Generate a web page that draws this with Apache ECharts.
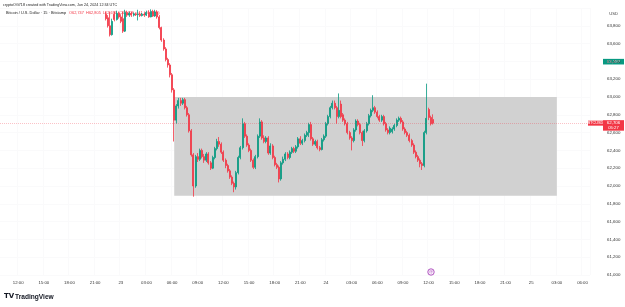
<!DOCTYPE html>
<html><head><meta charset="utf-8">
<script src="https://cdn.jsdelivr.net/npm/echarts@6/dist/echarts.min.js"></script>
<style>html,body{margin:0;padding:0;background:#fff}#c{width:625px;height:307px}</style>
</head><body><div id="c"></div>
<script>
// 15-minute bars, first category = Jun 22 10:00 UTC
const totalBars = 276;
const firstDataIndex = 49;
const opens = [63930,63890,63800,63700,63930,63870,63940,63900,63880,63740,63950,63920,63940,63920,63935,63925,63930,63915,63930,63920,63950,63900,63960,63910,63955,
63900,63780,63640,63540,63420,63360,63250,63080,62740,62900,62960,62930,62970,62880,62800,62620,62350,62000,62330,62300,62400,62330,62290,62360,62260,62200,
62320,62420,62500,62470,62380,62290,62230,62170,62100,62030,61990,62150,62320,62430,62700,62560,62460,62400,62290,62210,62330,62560,62720,62540,62500,62540,
62370,62450,62320,62240,62210,62080,62260,62300,62360,62320,62380,62420,62390,62440,62530,62480,62510,62570,62600,62690,62530,62470,62500,62430,62410,62520,
62560,62700,62780,62880,62930,62880,62780,62920,62800,62740,62700,62600,62540,62510,62630,62730,62690,62600,62510,62620,62700,62790,62850,62880,62830,62780,
62740,62780,62700,62630,62600,62610,62640,62680,62740,62760,62720,62640,62600,62570,62510,62460,62380,62330,62290,62250,62230,62600,62860,62770,62747];
const closes = [63880,63800,63700,63850,63870,63940,63900,63850,63740,63950,63920,63940,63920,63935,63925,63930,63915,63930,63920,63950,63900,63960,63910,63955,63900,
63780,63640,63540,63420,63360,63250,63080,62740,62900,62960,62930,62970,62880,62800,62620,62350,62000,62330,62300,62400,62330,62290,62360,62260,62200,62320,
62420,62500,62470,62380,62290,62230,62170,62100,62030,61990,62150,62320,62430,62700,62560,62460,62400,62290,62210,62330,62560,62720,62540,62500,62540,62370,
62450,62320,62240,62210,62080,62260,62300,62360,62320,62380,62420,62390,62440,62530,62480,62510,62570,62600,62690,62530,62470,62500,62430,62410,62520,62560,
62700,62780,62880,62930,62880,62780,62850,62780,62740,62700,62600,62540,62510,62630,62730,62690,62600,62510,62620,62700,62790,62850,62880,62830,62780,62740,
62780,62700,62630,62600,62650,62640,62680,62740,62760,62720,62640,62600,62570,62510,62460,62380,62330,62290,62250,62230,62600,62760,62770,62700,62706];
const lows = [63860,63780,63680,63690,63850,63860,63880,63830,63720,63730,63900,63900,63900,63905,63910,63860,63900,63905,63900,63910,63890,63895,63900,63900,63880,
63760,63620,63520,63400,63330,63220,63050,62500,62700,62870,62900,62910,62860,62780,62600,62330,61880,61980,62270,62280,62310,62260,62270,62240,62180,62190,
62300,62400,62440,62360,62270,62200,62150,62080,62010,61930,61960,62130,62300,62410,62540,62440,62380,62270,62190,62190,62310,62540,62520,62480,62480,62350,
62350,62300,62220,62190,62040,62060,62240,62280,62300,62300,62360,62370,62370,62420,62460,62460,62490,62550,62550,62510,62450,62450,62410,62390,62400,62500,
62540,62680,62760,62860,62860,62700,62760,62760,62720,62680,62580,62520,62400,62490,62610,62670,62580,62450,62490,62600,62680,62770,62830,62810,62760,62720,
62720,62680,62610,62580,62580,62590,62620,62660,62720,62700,62620,62580,62550,62490,62440,62360,62310,62270,62210,62180,62210,62580,62740,62680,62690];
const highs = [63960,63920,63960,63880,63960,63970,63960,63930,63960,63980,63970,63960,63960,63950,63950,63980,63950,63945,63950,63970,63975,63985,63980,63980,63975,
63920,63790,63660,63560,63440,63380,63270,63100,62920,62990,62990,62990,62990,62900,62820,62640,62370,62350,62370,62420,62420,62360,62380,62380,62280,62340,
62440,62530,62550,62490,62400,62310,62250,62190,62120,62050,62170,62340,62450,62760,62720,62580,62480,62420,62310,62350,62580,62760,62740,62570,62560,62560,
62480,62470,62340,62260,62230,62280,62330,62380,62380,62400,62440,62440,62460,62550,62560,62530,62590,62620,62710,62720,62550,62520,62520,62450,62540,62580,
62720,62800,62900,62960,62960,62900,63040,62960,62820,62760,62720,62620,62560,62650,62750,62750,62710,62620,62640,62720,62810,62870,63020,62900,62850,62800,
62800,62800,62720,62650,62670,62660,62700,62760,62780,62780,62740,62660,62620,62590,62530,62480,62400,62350,62310,62270,62620,63150,62880,62790,62805];
const yTicks = {min: 61000, max: 64000, step: 200};
const rangeBox = {fromIndex: 81, toIndex: 260, top: 63000, bottom: 61890};
const lastPrice = 62706;
const greenMark = 63397;
const titleLine = 'cryptoOG718 created with TradingView.com, Jun 24, 2024 12:34 UTC';
const symbolLine = 'Bitcoin / U.S. Dollar · 15 · Bitstamp';
const ohlcLine = 'O62,747  H62,805  L62,690  C62,706  −41 (−0.07%)';

const categories = [];
const base = Date.UTC(2024,5,22,10,0);
for (let i=0;i<totalBars;i++){ categories.push(new Date(base + i*15*60000).toISOString()); }
const candleData = categories.map((c,i)=>{
  const k = i - firstDataIndex;
  if (k>=0 && k<opens.length) return [opens[k], closes[k], lows[k], highs[k]];
  return '-';
});
const UP='#089981', DOWN='#f23645';
const FONT='Liberation Sans';
const chart = echarts.init(document.getElementById('c'), null, {renderer:'canvas'});
const pad = n => (n<10?'0':'')+n;
chart.setOption({
  animation:false,
  backgroundColor:'#ffffff',
  grid:{left:-1, right:35, top:8, bottom:32},
  xAxis:{type:'category', data:categories, boundaryGap:true,
    axisLine:{show:false}, axisTick:{show:false},
    splitLine:{show:true, interval:(i)=> i%12===8, lineStyle:{color:'#fafafb', width:1}},
    axisLabel:{interval:(i)=> i%12===8, margin:6, fontSize:4.3, color:'#333', fontFamily:FONT,
      formatter:(v)=>{const d=new Date(v); const h=d.getUTCHours(); return h===0? String(d.getUTCDate()) : pad(h)+':00';}}},
  yAxis:{type:'value', position:'right', min:yTicks.min, max:yTicks.max, interval:yTicks.step, scale:true,
    axisLine:{show:false}, axisTick:{show:false},
    splitLine:{lineStyle:{color:'#fafafb', width:1}},
    axisLabel:{showMaxLabel:false, margin:17, fontSize:4.4, color:'#333', fontFamily:FONT, align:'left',
      formatter:(v)=> v.toLocaleString('en-US')}},
  series:[
    {type:'line', data:[], z:1, silent:true,
      markArea:{silent:true, itemStyle:{color:'#d1d1d1'},
        data:[[{xAxis:categories[rangeBox.fromIndex], yAxis:rangeBox.top},{xAxis:categories[rangeBox.toIndex], yAxis:rangeBox.bottom}]]}},
    {type:'candlestick', data:candleData, z:3, barWidth:1.5,
      itemStyle:{color:UP, color0:DOWN, borderColor:UP, borderColor0:DOWN, borderWidth:0.8},
      markLine:{silent:true, symbol:'none', label:{show:false},
        lineStyle:{color:DOWN, opacity:0.3, type:'dotted', width:1},
        data:[{yAxis:lastPrice}]}}
  ]
});
const yPix = v => chart.convertToPixel({yAxisIndex:0}, v);
const gy = yPix(greenMark), ry = yPix(lastPrice);
chart.setOption({graphic:[
  {type:'text', left:3, top:3, style:{text:titleLine, fontSize:3.7, fill:'#222', fontFamily:FONT}},
  {type:'text', left:6, top:11, style:{text:symbolLine, fontSize:3.9, fill:'#222', fontFamily:FONT}},
  {type:'text', left:69, top:11, style:{text:ohlcLine, fontSize:3.9, fill:DOWN, fontFamily:FONT}},
  {type:'text', right:7, top:12, style:{text:'USD', fontSize:4.2, fill:'#444', fontFamily:FONT}},
  {type:'rect', shape:{x:603, y:gy-2.8, width:21, height:5.6}, style:{fill:UP}},
  {type:'text', x:613.5, y:gy, style:{text:greenMark.toLocaleString('en-US'), fontSize:4.4, fill:'#fff', fontFamily:FONT, align:'center', verticalAlign:'middle'}},
  {type:'rect', shape:{x:588, y:ry-2.5, width:15, height:5}, style:{fill:DOWN}},
  {type:'text', x:595.5, y:ry, style:{text:'BTCUSD', fontSize:3.8, fill:'#fff', fontFamily:FONT, align:'center', verticalAlign:'middle'}},
  {type:'rect', shape:{x:603, y:ry-3, width:21, height:10.5}, style:{fill:DOWN}},
  {type:'text', x:613.5, y:ry, style:{text:lastPrice.toLocaleString('en-US'), fontSize:4.4, fill:'#fff', fontFamily:FONT, align:'center', verticalAlign:'middle'}},
  {type:'text', x:613.5, y:ry+4.8, style:{text:'05:27', fontSize:4.2, fill:'#fff', fontFamily:FONT, align:'center', verticalAlign:'middle'}},
  {type:'circle', shape:{cx:431, cy:272, r:3.2}, style:{fill:'#fff', stroke:'#9c27b0', lineWidth:0.8}},
  {type:'text', x:431, y:272, style:{text:'@', fontSize:4, fill:'#9c27b0', fontFamily:FONT, align:'center', verticalAlign:'middle'}},
  {type:'text', left:4, top:293, style:{text:'TV', fontSize:7, fontWeight:'bold', fill:'#131722', fontFamily:'DejaVu Sans'}},
  {type:'text', left:15, top:293.5, style:{text:'TradingView', fontSize:6.6, fontWeight:'bold', fill:'#131722', fontFamily:FONT}}
]});
</script></body></html>
